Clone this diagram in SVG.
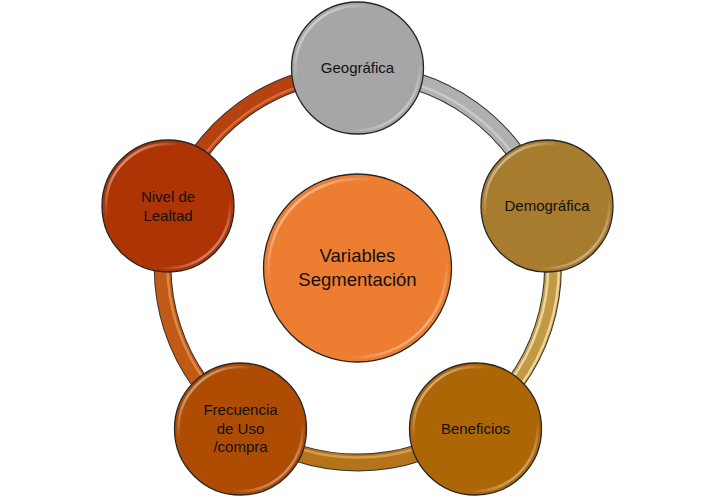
<svg xmlns="http://www.w3.org/2000/svg" width="715" height="499" viewBox="0 0 715 499">
<defs>
<linearGradient id="rim" x1="0" y1="0" x2="1" y2="1">
<stop offset="0" stop-color="#fff" stop-opacity="0.85"/>
<stop offset="0.3" stop-color="#fff" stop-opacity="0"/>
<stop offset="0.72" stop-color="#fff" stop-opacity="0"/>
<stop offset="1" stop-color="#fff" stop-opacity="0.8"/>
</linearGradient>
</defs>
<style>
.out{fill:none;stroke:#333;stroke-width:18}
.base{fill:none;stroke-width:16}
.hl{fill:none;stroke-width:2.5;stroke-opacity:0.75}
.node{stroke:#262626;stroke-width:1.3}
.rim{fill:none;stroke:url(#rim);stroke-width:2.5}
.t{font-family:"Liberation Sans",Arial,sans-serif;font-size:15px;fill:#111;text-anchor:middle}
.tc{font-family:"Liberation Sans",Arial,sans-serif;font-size:18.5px;fill:#111;text-anchor:middle}
</style>
<rect width="715" height="499" fill="#fff"/>
<g id="connectors">
<!-- Geo -> Demo -->
<path class="out" d="M357.8,72.5 A195,195 0 0 1 543.3,207.2"/>
<path class="base" stroke="#b0b0b0" d="M357.8,72.5 A195,195 0 0 1 543.3,207.2"/>
<path class="hl" stroke="#d2d2d2" d="M357.8,75.5 A192,192 0 0 1 540.4,208.2"/>
<!-- Demo -> Bene -->
<path class="out" d="M543.3,207.2 A195,195 0 0 1 472.4,425.3"/>
<path class="base" stroke="#c29a45" d="M543.3,207.2 A195,195 0 0 1 472.4,425.3"/>
<path class="hl" stroke="#fbeab8" d="M538.6,208.7 A190,190 0 0 1 469.5,421.2"/>
<path class="hl" stroke="#fbeab8" d="M549.0,205.3 A201,201 0 0 1 476.0,430.1"/>
<!-- Bene -> Frec -->
<path class="out" d="M472.4,425.3 A195,195 0 0 1 243.2,425.3"/>
<path class="base" stroke="#b5731a" d="M472.4,425.3 A195,195 0 0 1 243.2,425.3"/>
<path class="hl" stroke="#e0a860" d="M469.5,421.2 A190,190 0 0 1 246.1,421.2"/>
<!-- Frec -> Nivel -->
<path class="out" d="M243.2,425.3 A195,195 0 0 1 172.3,207.2"/>
<path class="base" stroke="#c05a14" d="M243.2,425.3 A195,195 0 0 1 172.3,207.2"/>
<path class="hl" stroke="#e89a58" d="M246.1,421.2 A190,190 0 0 1 177.1,208.8"/>
<!-- Nivel -> Geo -->
<path class="out" d="M172.3,207.2 A195,195 0 0 1 357.8,72.5"/>
<path class="base" stroke="#b8420f" d="M172.3,207.2 A195,195 0 0 1 357.8,72.5"/>
<path class="hl" stroke="#e07a48" d="M177.1,208.8 A190,190 0 0 1 357.8,77.5"/>
</g>
<g id="center">
<circle class="node" cx="357.5" cy="268" r="94" fill="#ed7d31"/>
<circle class="rim" cx="357.5" cy="268" r="89"/>
<text class="tc" x="357.5" y="262">Variables</text>
<text class="tc" x="357.5" y="286">Segmentación</text>
</g>
<g id="geografica">
<circle class="node" cx="357.5" cy="68" r="66" fill="#a6a6a6"/>
<circle class="rim" cx="357.5" cy="68" r="62"/>
<text class="t" x="357.5" y="73">Geográfica</text>
</g>
<g id="demografica">
<circle class="node" cx="547" cy="206" r="66" fill="#a87c2e"/>
<circle class="rim" cx="547" cy="206" r="62"/>
<text class="t" x="547" y="211">Demográfica</text>
</g>
<g id="beneficios">
<circle class="node" cx="475.5" cy="429" r="66" fill="#ad6606"/>
<circle class="rim" cx="475.5" cy="429" r="62"/>
<text class="t" x="475.5" y="434">Beneficios</text>
</g>
<g id="frecuencia">
<circle class="node" cx="240.5" cy="429" r="66" fill="#ae4c04"/>
<circle class="rim" cx="240.5" cy="429" r="62"/>
<text class="t" x="240.5" y="415">Frecuencia</text>
<text class="t" x="240.5" y="433.5">de Uso</text>
<text class="t" x="240.5" y="452">/compra</text>
</g>
<g id="nivel">
<circle class="node" cx="168" cy="206" r="66" fill="#ae3406"/>
<circle class="rim" cx="168" cy="206" r="62"/>
<text class="t" x="168" y="202">Nivel de</text>
<text class="t" x="168" y="221">Lealtad</text>
</g>
</svg>
